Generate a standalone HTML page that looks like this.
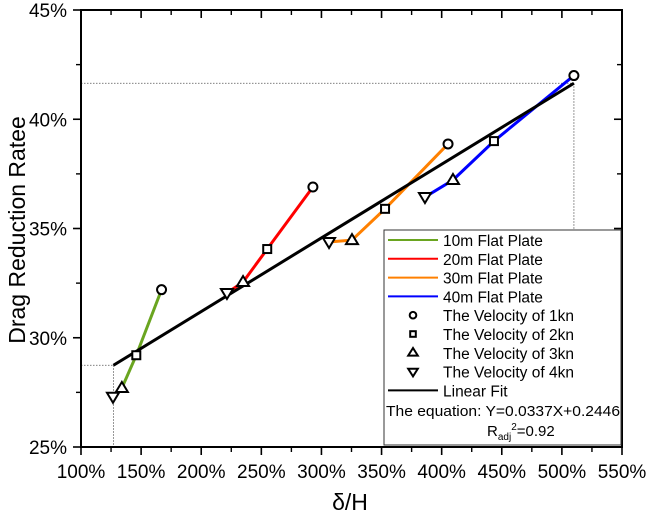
<!DOCTYPE html>
<html><head><meta charset="utf-8"><style>
body{margin:0;background:#fff;}
svg{display:block;font-family:"Liberation Sans",Arial,sans-serif;}
</style></head><body>
<svg id="chart" width="646" height="519" viewBox="0 0 646 519">
<g id="grid"></g>
<g id="axes"></g>
<g id="series"></g>
<g id="legend"></g>
</svg>
<script>
const xTicks=[100,150,200,250,300,350,400,450,500,550];
const yTicks=[25,30,35,40,45];
const seriesNames=["10m Flat Plate","20m Flat Plate","30m Flat Plate","40m Flat Plate"];
const seriesColors=["#6aa520","#ff0000","#ff8000","#0000ff"];
const xs10=[126.6,134,146,167]; const ys10=[27.3,27.7,29.2,32.2];
const xs20=[221.4,234.8,254.9,292.9]; const ys20=[32.05,32.55,34.06,36.9];
const xs30=[306.3,325.4,352.9,405.3]; const ys30=[34.38,34.47,35.9,38.87];
const xs40=[386.1,409.4,443.5,510]; const ys40=[36.44,37.22,39.0,42.0];
const markerOrder=["down","up","square","circle"];
const fitSlope=0.0337, fitIntercept=0.2446, fitRange=[1.27,5.1];

const NS="http://www.w3.org/2000/svg";
const L=81,R=622,T=10,B=447;
const X=v=>L+(v-100)/450*(R-L);
const Y=v=>B-(v-25)/20*(B-T);
function mk(tag,attrs,parent){const e=document.createElementNS(NS,tag);for(const k in attrs)e.setAttribute(k,attrs[k]);parent.appendChild(e);return e;}
const axes=document.getElementById('axes'),ser=document.getElementById('series'),leg=document.getElementById('legend'),grid=document.getElementById('grid');

const fx0=fitRange[0]*100,fx1=fitRange[1]*100,fy0=(fitSlope*fitRange[0]+fitIntercept)*100,fy1=(fitSlope*fitRange[1]+fitIntercept)*100;
[[X(fx0),Y(fy0),X(fx0),B],[L,Y(fy0),X(fx0),Y(fy0)],[X(fx1),Y(fy1),X(fx1),B],[L,Y(fy1),X(fx1),Y(fy1)]].forEach(d=>{
 const e=mk('line',{x1:d[0],y1:d[1],x2:d[2],y2:d[3],stroke:'#555','stroke-width':0.8,'stroke-dasharray':'1.5,1.5'},grid);
 
 
});

const fr=mk('rect',{x:L,y:T,width:R-L,height:B-T,fill:'none',stroke:'#000','stroke-width':2},axes);


for(let i=0;i<xTicks.length;i++){
 const x=X(xTicks[i]);
 mk('line',{x1:x,y1:B,x2:x,y2:B+8,stroke:'#000','stroke-width':1.6},axes);
 mk('line',{x1:x,y1:T,x2:x,y2:T+8,stroke:'#000','stroke-width':1.6},axes);
 const t=mk('text',{x:x,y:478,'text-anchor':'middle','font-size':19},axes);t.textContent=xTicks[i]+'%';
 
 
 if(i<xTicks.length-1){const xm=X((xTicks[i]+xTicks[i+1])/2);
  mk('line',{x1:xm,y1:B,x2:xm,y2:B+5,stroke:'#000','stroke-width':1.4},axes);
  mk('line',{x1:xm,y1:T,x2:xm,y2:T+5,stroke:'#000','stroke-width':1.4},axes);}
}
for(let i=0;i<yTicks.length;i++){
 const y=Y(yTicks[i]);
 mk('line',{x1:L-8,y1:y,x2:L,y2:y,stroke:'#000','stroke-width':1.6},axes);
 mk('line',{x1:R-8,y1:y,x2:R,y2:y,stroke:'#000','stroke-width':1.6},axes);
 const t=mk('text',{x:67,y:y+7,'text-anchor':'end','font-size':19},axes);t.textContent=yTicks[i]+'%';
 
 
 if(i<yTicks.length-1){const ym=Y((yTicks[i]+yTicks[i+1])/2);
  mk('line',{x1:L-5,y1:ym,x2:L,y2:ym,stroke:'#000','stroke-width':1.4},axes);
  mk('line',{x1:R-5,y1:ym,x2:R,y2:ym,stroke:'#000','stroke-width':1.4},axes);}
}
const xt=mk('text',{x:350,y:510,'text-anchor':'middle','font-size':23},axes);xt.textContent='δ/H';


const yt=mk('text',{x:0,y:0,'text-anchor':'middle','font-size':23,transform:'translate(25,230) rotate(-90)'},axes);yt.textContent='Drag Reduction Ratee';



function marker(type,cx,cy,parent,s){
 s=s||5;let e;
 if(type==='circle')e=mk('circle',{cx:cx,cy:cy,r:s-0.5},parent);
 else if(type==='square')e=mk('rect',{x:cx-s+1,y:cy-s+1,width:2*s-2,height:2*s-2},parent);
 else if(type==='up')e=mk('polygon',{points:`${cx},${cy-s-1} ${cx-s-1},${cy+s-1} ${cx+s+1},${cy+s-1}`},parent);
 else e=mk('polygon',{points:`${cx},${cy+s+1} ${cx-s-1},${cy-s+1} ${cx+s+1},${cy-s+1}`},parent);
 e.setAttribute('fill','#fff');e.setAttribute('stroke','#000');e.setAttribute('stroke-width',2);
 return e;
}
const allX=[xs10,xs20,xs30,xs40],allY=[ys10,ys20,ys30,ys40];
for(let s=0;s<4;s++){
 const pts=allX[s].map((v,i)=>X(v)+','+Y(allY[s][i])).join(' ');
 const pl=mk('polyline',{points:pts,fill:'none',stroke:seriesColors[s],'stroke-width':3},ser);
 
 
}
const fl=mk('line',{x1:X(fx0),y1:Y(fy0),x2:X(fx1),y2:Y(fy1),stroke:'#000','stroke-width':3},ser);


for(let s=0;s<4;s++){
 for(let i=0;i<allX[s].length;i++){
  const m=marker(markerOrder[i],X(allX[s][i]),Y(allY[s][i]),ser);
  
  
 }
}
const lb=mk('rect',{x:384,y:230,width:237,height:215,fill:'#fff',stroke:'#333','stroke-width':1},leg);


const rowY=i=>240+i*18.8;
function legText(txt,y,name){const t=mk('text',{x:443,y:y+6,'font-size':15.5},leg);t.textContent=txt;
 return t;}
for(let s=0;s<4;s++){
 mk('line',{x1:388,y1:rowY(s),x2:438,y2:rowY(s),stroke:seriesColors[s],'stroke-width':2},leg);
 legText(seriesNames[s],rowY(s),'legend-entry');
}
const vel=["circle","square","up","down"];
for(let i=0;i<4;i++){
 marker(vel[i],413,rowY(4+i),leg,3.8);
 legText('The Velocity of '+(i+1)+'kn',rowY(4+i),'legend-entry');
}
mk('line',{x1:388,y1:rowY(8),x2:438,y2:rowY(8),stroke:'#000','stroke-width':2},leg);
legText('Linear Fit',rowY(8),'legend-entry');
const eq=mk('text',{x:386,y:416,'font-size':15,'textLength':234,'lengthAdjust':'spacingAndGlyphs'},leg);eq.textContent='The equation: Y=0.0337X+0.2446';


const r2=mk('text',{x:487,y:436,'font-size':15},leg);
r2.innerHTML='R<tspan font-size="10" dy="4">adj</tspan><tspan font-size="10" dy="-10">2</tspan><tspan dy="6">=0.92</tspan>';


</script>
</body></html>
